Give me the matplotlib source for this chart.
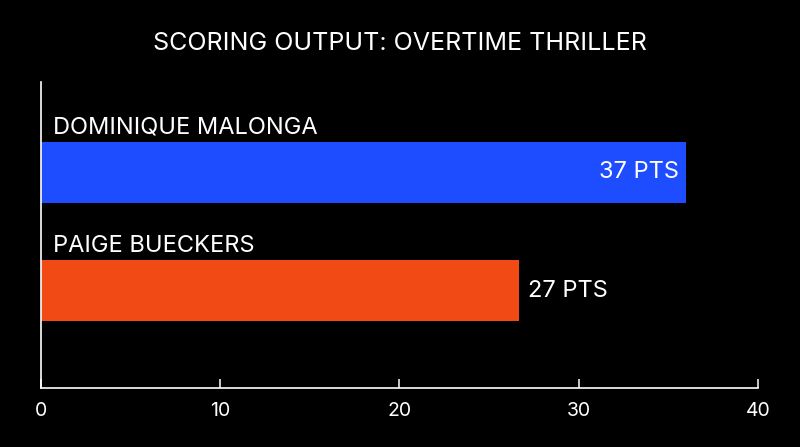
import matplotlib.pyplot as plt
from matplotlib import transforms

plt.rcParams['font.family'] = ['Inter', 'DejaVu Sans']

# data
players = ['DOMINIQUE MALONGA', 'PAIGE BUECKERS']
bar_lengths = [36.0, 26.7]
point_labels = ['37 PTS', '27 PTS']
colors = ['#1E4DFF', '#F24A14']
ticks = [0, 10, 20, 30, 40]

fig = plt.figure(figsize=(8, 4.47), dpi=100, facecolor='black')
ax = fig.add_axes([0.0509, 0.1313, 0.8965, 0.6853], facecolor='black')

ypos = [1, 0]
h = 0.515
ax.barh(ypos, bar_lengths, height=h, color=colors, zorder=2)

ax.set_xlim(0, 40)
ax.set_ylim(-0.822, 1.761)
ax.set_xticks(ticks)
ax.set_yticks([])

for s in ['top', 'right']:
    ax.spines[s].set_visible(False)
for s in ['left', 'bottom']:
    ax.spines[s].set_color('white')
    ax.spines[s].set_linewidth(1.2)
ax.tick_params(axis='x', direction='in', length=6.5, width=1.1, color='white',
               labelcolor='white', labelsize=14, pad=10)

# player names above the bars
for y, name in zip(ypos, players):
    off = transforms.offset_copy(ax.transData, fig=fig, x=12, y=8, units='dots')
    ax.text(0, y + h / 2, name, transform=off, color='white', fontsize=17,
            va='baseline', ha='left')

# point labels: inside the long bar, outside the short one
for i, (y, v, lab) in enumerate(zip(ypos, bar_lengths, point_labels)):
    if i == 0:
        ax.text(v - 0.4, y, lab, color='white', fontsize=17, va='center', ha='right')
    else:
        ax.text(v + 0.5, y, lab, color='white', fontsize=17, va='center', ha='left')

fig.text(0.5, 0.888, 'SCORING OUTPUT: OVERTIME THRILLER', color='white',
         fontsize=18, ha='center', va='baseline')

fig.savefig('out.png', dpi=100, facecolor='black')
